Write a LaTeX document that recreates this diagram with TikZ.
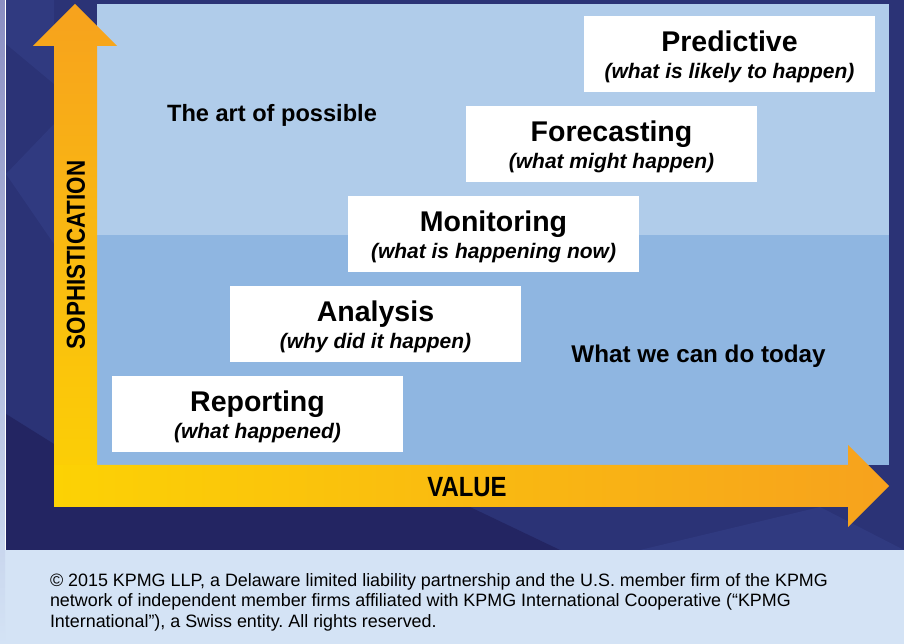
\documentclass[tikz,border=0pt]{standalone}
\usepackage{fontspec}
\setmainfont{Liberation Sans}
\newfontfamily\axisfont[FakeStretch=0.86]{Liberation Sans}
\usepackage{tikz}
\usetikzlibrary{positioning,calc}

\definecolor{kpmgnavy}{HTML}{2B3376}
\definecolor{kpmgdeep}{HTML}{232562}
\definecolor{kpmgfacet}{HTML}{303A80}
\definecolor{edgelav}{HTML}{8A8EC2}
\definecolor{skyhigh}{HTML}{B0CCEA}
\definecolor{skylow}{HTML}{8FB6E1}
\definecolor{footblue}{HTML}{D4E3F5}
\definecolor{arrorange}{HTML}{F7A21D}
\definecolor{arryellow}{HTML}{FCD204}

\tikzset{
	maturity chart/.style={
		x=1pt, y=1pt,
		node distance=14pt and -173pt,
		every node/.style={inner sep=0pt, outer sep=0pt},
		note/.style={font=\fontsize{23.6}{26}\selectfont\bfseries},
		axis name/.style={font=\axisfont\fontsize{26}{28}\selectfont\bfseries},
		legal/.style={font=\fontsize{17.9}{20.5}\selectfont\frenchspacing, align=flush left},
		},
	stage width/.store in=\stagewidth,
	stage width=291pt,
	stage height/.store in=\stageheight,
	stage height=76pt,
	stage/.style 2 args={
		fill=white, text width=\stagewidth, minimum height=\stageheight,
		align=flush center, font=\fontsize{28.5}{27}\selectfont\bfseries,
		node contents={\rule{0pt}{27pt}#1\\{\fontsize{21}{27}\selectfont\itshape #2}}}
}

\begin{document}
\begin{tikzpicture}[maturity chart]
	\useasboundingbox (0,0) rectangle (904,644);
	% backdrop and its facets
	\fill[kpmgnavy] (0,94) rectangle (904,644);
	\fill[kpmgfacet] (6,644) -- (54,644) -- (54,560) -- (6,600) -- cycle;
	\fill[kpmgfacet] (6,470) -- (54,520) -- (54,400) -- cycle;
	\fill[kpmgdeep] (6,94) -- (560,94) -- (470,137) -- (54,137) -- (54,200) -- (6,230) -- cycle;
	\fill[kpmgfacet] (640,94) -- (820,137) -- (904,94) -- cycle;
	\fill[footblue] (0,0) rectangle (904,94);
	\shade[top color=edgelav, bottom color=footblue] (0,0) rectangle (5,644);
	\draw[white, line width=.8pt] (5.5,94) -- (5.5,644);
	% two bands of the panel
	\fill[skyhigh] (97,409) rectangle (889,640);
	\fill[skylow] (97,179) rectangle (889,409);
	% axes
	\coordinate (o) at (54,137);
	\shade[bottom color=arryellow, top color=arrorange]
		(o) -- (97,137) -- (97,598) -- (117,598) -- (75,640) -- (33,598) -- (54,598) -- cycle;
	\shade[left color=arryellow, right color=arrorange]
		(o) -- (848,137) -- (848,117) -- (889,158) -- (848,199) -- (848,179) -- (54,179) -- cycle;
	\node[axis name, font=\axisfont\fontsize{27.8}{28}\selectfont\bfseries] (value) at (467,157) {VALUE};
	\node[axis name, rotate=90] (soph) at (76,389) {SOPHISTICATION};
	% steps
	\node (rep) at (257.5,230) [stage={Reporting}{(what happened)}];
	\node (ana) [above right=of rep, stage={Analysis}{(why did it happen)}];
	\node (mon) [above right=of ana, stage={Monitoring}{(what is happening now)}];
	\node (fc) [above right=of mon, stage={Forecasting}{(what might happen)}];
	\node (pred) [above right=of fc, stage={Predictive}{(what is likely to happen)}];
	\node[note] (possible) at (272,529) {The art of possible};
	\node[note, font=\fontsize{24.2}{26}\selectfont\bfseries] (today) at (698.5,288) {What we can do today};
	% footer
	\node[legal, anchor=north west] (rights) at (50,70.5) {%
		© 2015 KPMG LLP, a Delaware limited liability partnership and the U.S. member firm of the KPMG\\
		network of independent member firms affiliated with KPMG International Cooperative (“KPMG\\
		International”), a Swiss entity. All rights reserved.};
\end{tikzpicture}
\end{document}
